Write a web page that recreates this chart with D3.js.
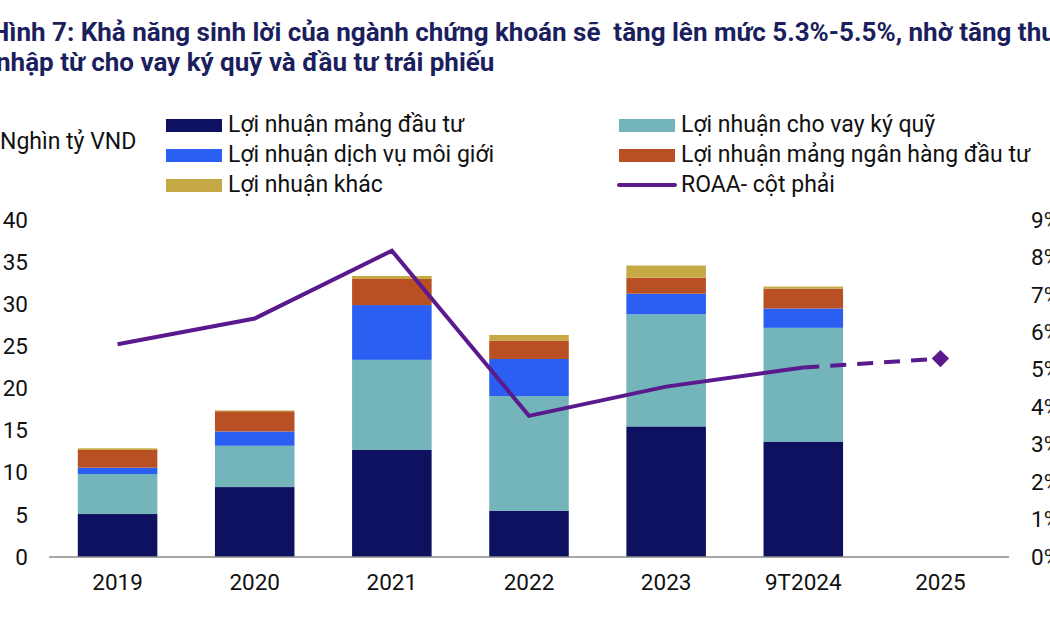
<!DOCTYPE html>
<html>
<head>
<meta charset="utf-8">
<title>Hình 7</title>
<script src="https://d3js.org/d3.v7.min.js"></script>
<style>
  body { margin: 0; background: #fff; }
  svg text { font-family: Roboto, "Noto Sans", sans-serif; }
</style>
</head>
<body>
<svg width="1050" height="630"></svg>
<script>
// dữ liệu
const years = ["2019", "2020", "2021", "2022", "2023", "9T2024", "2025"];
const seriesNames = ["Lợi nhuận mảng đầu tư", "Lợi nhuận cho vay ký quỹ", "Lợi nhuận dịch vụ môi giới",
                     "Lợi nhuận mảng ngân hàng đầu tư", "Lợi nhuận khác"];
const dauTu    = [5.1, 8.3, 12.7, 5.5, 15.5, 13.7, null];
const kyQuy    = [4.75, 4.9, 10.7, 13.6, 13.3, 13.5, null];
const moiGioi  = [0.75, 1.7, 6.5, 4.4, 2.45, 2.3, null];
const nganHang = [2.1, 2.4, 3.1, 2.2, 1.9, 2.35, null];
const khac     = [0.2, 0.1, 0.35, 0.65, 1.45, 0.25, null];
const roaa     = [5.68, 6.37, 8.18, 3.77, 4.55, 5.06, 5.3];
const leftTicks = [0, 5, 10, 15, 20, 25, 30, 35, 40];
const rightTicks = [0, 1, 2, 3, 4, 5, 6, 7, 8, 9];

const colors = ["#0d1160", "#74b4bb", "#2a5ff2", "#b85024", "#c5a944"];
const lineColor = "#5a1a8e";

const svg = d3.select("svg");
const plotLeft = 49, plotRight = 1009, plotTop = 220, plotBottom = 557;
const fs = 22.5;

// tiêu đề
const title = svg.append("g").attr("fill", "#1b1f5e").attr("font-weight", "bold").attr("font-size", 26);
title.append("text").attr("x", -9).attr("y", 41)
  .attr("xml:space", "preserve")
  .text("Hình 7: Khả năng sinh lời của ngành chứng khoán sẽ  tăng lên mức 5.3%-5.5%, nhờ tăng thu");
title.append("text").attr("x", -4).attr("y", 71)
  .text("nhập từ cho vay ký quỹ và đầu tư trái phiếu");

// thang đo
const x = d3.scaleBand().domain(years).range([plotLeft, plotRight]).paddingInner(0.42).paddingOuter(0.21);
const y = d3.scaleLinear().domain([0, 40]).range([plotBottom, plotTop]);
const y2 = d3.scaleLinear().domain([0, 9]).range([plotBottom, plotTop]);

// cột chồng
const rows = years.map((yr, i) => ({ year: yr, s0: dauTu[i], s1: kyQuy[i], s2: moiGioi[i], s3: nganHang[i], s4: khac[i] }))
  .filter(d => d.s0 != null);
const stack = d3.stack().keys(["s0", "s1", "s2", "s3", "s4"])(rows);

svg.append("g").selectAll("g").data(stack).join("g")
  .attr("fill", (d, i) => colors[i])
  .selectAll("rect").data(d => d).join("rect")
  .attr("x", d => x(d.data.year))
  .attr("width", x.bandwidth())
  .attr("y", d => y(d[1]))
  .attr("height", d => y(d[0]) - y(d[1]));

// trục
svg.append("line").attr("x1", plotLeft).attr("x2", plotRight).attr("y1", plotBottom).attr("y2", plotBottom)
  .attr("stroke", "#8a8a8a").attr("stroke-width", 1.3);

const yAxis = d3.axisLeft(y).tickValues(leftTicks).tickSize(0).tickPadding(0);
svg.append("g").attr("transform", "translate(28,0)").call(yAxis)
  .call(g => g.select(".domain").remove())
  .selectAll("text").attr("font-size", fs).attr("fill", "#111").attr("font-family", "Roboto");

const y2Axis = d3.axisRight(y2).tickValues(rightTicks).tickSize(0).tickPadding(0).tickFormat(d => d + "%");
svg.append("g").attr("transform", "translate(1031,0)").call(y2Axis)
  .call(g => g.select(".domain").remove())
  .selectAll("text").attr("font-size", fs).attr("fill", "#111").attr("font-family", "Roboto");

const xAxis = d3.axisBottom(x).tickSize(0).tickPadding(17);
svg.append("g").attr("transform", `translate(0,${plotBottom})`).call(xAxis)
  .call(g => g.select(".domain").remove())
  .selectAll("text").attr("font-size", fs).attr("fill", "#111").attr("font-family", "Roboto");

// đường ROAA
const cx = d => x(d.year) + x.bandwidth() / 2;
const pts = years.map((yr, i) => ({ year: yr, v: roaa[i] }));
const line = d3.line().x(cx).y(d => y2(d.v));
svg.append("path").datum(pts.slice(0, 6)).attr("d", line)
  .attr("fill", "none").attr("stroke", lineColor).attr("stroke-width", 4).attr("stroke-linejoin", "miter");
svg.append("path").datum(pts.slice(5)).attr("d", line)
  .attr("fill", "none").attr("stroke", lineColor).attr("stroke-width", 4).attr("stroke-dasharray", "16,11");
const last = pts[6];
svg.append("path")
  .attr("d", d3.symbol(d3.symbolSquare, 150)())
  .attr("transform", `translate(${cx(last)},${y2(last.v)}) rotate(45)`)
  .attr("fill", lineColor);

// chú thích
svg.append("text").attr("x", 0).attr("y", 149).attr("font-size", 23).attr("fill", "#111").text("Nghìn tỷ VND");

const legendItems = [
  { name: seriesNames[0], c: colors[0], col: 0, row: 0 },
  { name: seriesNames[1], c: colors[1], col: 1, row: 0 },
  { name: seriesNames[2], c: colors[2], col: 0, row: 1 },
  { name: seriesNames[3], c: colors[3], col: 1, row: 1 },
  { name: seriesNames[4], c: colors[4], col: 0, row: 2 },
  { name: "ROAA- cột phải", c: lineColor, col: 1, row: 2, isLine: true }
];
const lg = svg.append("g").selectAll("g").data(legendItems).join("g")
  .attr("transform", d => `translate(${d.col ? 619 : 166},${132 + d.row * 30})`);
lg.filter(d => !d.isLine).append("rect")
  .attr("x", 0).attr("y", -13).attr("width", 56).attr("height", 13).attr("fill", d => d.c);
lg.filter(d => d.isLine).append("line")
  .attr("x1", 0).attr("x2", 56).attr("y1", -7).attr("y2", -7)
  .attr("stroke", d => d.c).attr("stroke-width", 4).attr("stroke-linecap", "round");
lg.append("text").attr("x", 62).attr("y", 0).attr("font-size", 23).attr("fill", "#111").text(d => d.name);
</script>
</body>
</html>
